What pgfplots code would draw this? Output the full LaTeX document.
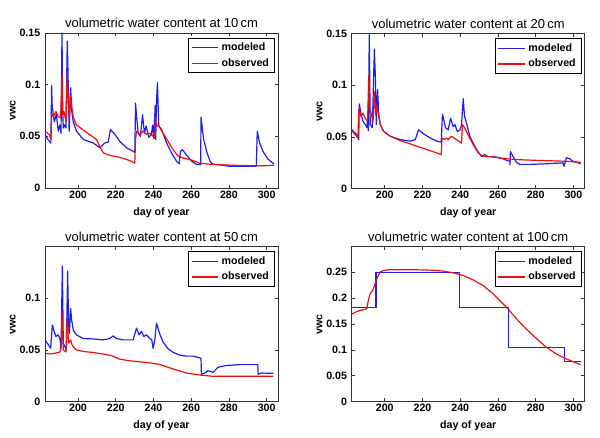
\documentclass[border=0pt]{standalone}
\usepackage{pgfplots}
\pgfplotsset{compat=1.18}
\usepackage{fontspec}
\setmainfont{Liberation Sans}
\definecolor{mblue}{RGB}{30,30,235}
\definecolor{mred}{RGB}{235,15,15}
\definecolor{axgray}{RGB}{50,50,50}
\pgfplotsset{
  vwcaxis/.style={
    scale only axis,
    width=174.75pt, height=116.25pt,
    anchor=south west,
    xmin=182.5, xmax=306,
    ymin=0,
    xtick={200,220,240,260,280,300},
    xticklabels={200,220,240,260,280,300},
    tick align=inside,
    major tick length=2.5pt,
    axis line style={draw=axgray, line width=0.5pt},
    every tick/.style={draw=axgray, line width=0.5pt},
    tick label style={font=\fontsize{8}{9}\selectfont\bfseries},
    xticklabel style={yshift=1.5pt},
    label style={font=\fontsize{8}{9}\selectfont\bfseries},
    xlabel={day of year},
    ylabel={vwc},
    ylabel style={yshift=-4pt},
    title style={font=\fontsize{9.75}{11}\selectfont, yshift=-5.5pt},
    legend style={at={(1,1)}, anchor=north east, xshift=-2.5pt, yshift=-3.5pt,
      draw=black, line width=0.5pt, font=\fontsize{8}{9}\selectfont\bfseries,
      inner xsep=2pt, inner ysep=1.5pt, row sep=0.5pt},
    legend cell align=left,
    legend image code/.code={\draw[#1, line width=1pt] (0pt,0pt) -- (20pt,0pt);},
  },
  modline/.style={draw=mblue, line width=0.9pt, mark=none, line join=round},
  obsline/.style={draw=mred, line width=0.9pt, mark=none, line join=round},
}
\begin{document}
\begin{tikzpicture}
\path[use as bounding box] (0,0) rectangle (450pt,328.5pt);
% ---------- 10 cm ----------
\begin{axis}[vwcaxis, at={(33.75pt,187.5pt)}, ymax=0.15,
  ytick={0,0.05,0.1,0.15}, yticklabels={0,0.05,0.1,0.15},
  title={volumetric water content at 10\,cm}]
\addplot[modline] coordinates {(182.5,0.052) (184,0.047) (185.6,0.0435) (186.0,0.099) (186.3,0.080) (186.8,0.072) (187.5,0.064) (188.5,0.072) (189.5,0.055) (190.4,0.061) (191.0,0.053) (191.5,0.15) (191.9,0.075) (192.2,0.058) (193,0.061) (193.6,0.058) (194.3,0.142) (194.6,0.12) (195.3,0.055) (196.1,0.097) (196.7,0.074) (197.5,0.064) (199.2,0.055) (202.8,0.047) (208.1,0.0435) (211.6,0.039) (214.2,0.0435) (216,0.0445) (217.2,0.0565) (219.5,0.052) (222.2,0.045) (225.7,0.039) (230.1,0.0345) (230.5,0.082) (231,0.07) (231.9,0.053) (233.1,0.050) (234.2,0.071) (235.2,0.053) (236.1,0.06) (237.5,0.049) (238.9,0.052) (239.6,0.061) (240.2,0.048) (240.9,0.080) (241.2,0.047) (241.6,0.084) (242.1,0.102) (242.8,0.060) (244.2,0.057) (246.9,0.044) (249.5,0.034) (252.2,0.026) (253.6,0.0235) (254.3,0.0355) (255.3,0.037) (257.5,0.032) (260.2,0.026) (262.7,0.023) (265,0.0225) (265.2,0.0685) (266.6,0.047) (268.4,0.034) (270.2,0.025) (271.6,0.023) (275.1,0.0225) (280,0.021) (294.5,0.021) (295,0.055) (296.2,0.044) (298,0.0355) (300.7,0.028) (303.3,0.024) (303.8,0.0235)};
\addlegendentry{modeled}
\addplot[obsline] coordinates {(182.5,0.055) (184.8,0.0515) (185.7,0.047) (186.0,0.0725) (186.9,0.069) (188.3,0.074) (189.5,0.069) (190.8,0.068) (191.5,0.11) (191.9,0.071) (192.6,0.074) (193.6,0.064) (194.3,0.113) (194.8,0.084) (195.4,0.068) (196.1,0.090) (196.8,0.077) (197.5,0.068) (199.2,0.061) (202.8,0.056) (206.3,0.0515) (209.8,0.047) (211.6,0.040) (213.4,0.034) (216.9,0.0315) (222.2,0.0296) (227.5,0.0265) (230.1,0.024) (230.5,0.047) (231,0.055) (232.8,0.0517) (234.5,0.055) (236.3,0.052) (238.1,0.053) (239.8,0.050) (240.7,0.048) (241.2,0.069) (241.6,0.06) (242.5,0.061) (245.1,0.053) (247.8,0.045) (250.4,0.037) (253.1,0.031) (255.7,0.029) (258.3,0.028) (261,0.0265) (264.5,0.024) (269.8,0.023) (275.1,0.0225) (282.1,0.022) (291,0.0216) (299.8,0.0216) (303.8,0.022)};
\addlegendentry{observed}
\end{axis}
% ---------- 20 cm ----------
\begin{axis}[vwcaxis, at={(263.8pt,187pt)}, ymax=0.15,
  ytick={0,0.05,0.1,0.15}, yticklabels={0,0.05,0.1,0.15},
  title={volumetric water content at 20\,cm}]
\addplot[modline] coordinates {(182.6,0.057) (185.3,0.052) (186.2,0.0475) (186.5,0.082) (187.4,0.073) (188.5,0.065) (189.7,0.062) (190.6,0.059) (190.9,0.068) (191.3,0.056) (191.8,0.149) (192.3,0.062) (193.4,0.059) (194.5,0.135) (195,0.11) (195.5,0.062) (196.2,0.096) (196.8,0.072) (197.6,0.062) (199.4,0.0555) (202.9,0.0507) (208.2,0.0475) (213.5,0.046) (216.2,0.0475) (217.9,0.057) (220.6,0.053) (224.1,0.049) (227.6,0.046) (229.9,0.045) (230.6,0.072) (231.5,0.065) (232.2,0.059) (233.6,0.057) (234.9,0.068) (236.3,0.060) (237.2,0.062) (238.4,0.0555) (239.8,0.0565) (240.7,0.062) (241.6,0.087) (242.3,0.070) (243.3,0.0636) (245.1,0.0507) (246.9,0.044) (248.6,0.038) (251.3,0.031) (253,0.033) (254.8,0.031) (257.5,0.031) (261,0.030) (264.5,0.0275) (266.3,0.0265) (266.4,0.023) (266.6,0.036) (268,0.031) (269.8,0.0255) (271.6,0.0235) (276.9,0.0235) (285,0.024) (294.5,0.025) (295,0.0216) (296.3,0.030) (298,0.029) (299.8,0.0265) (302.4,0.025) (303.8,0.024)};
\addlegendentry{modeled}
\addplot[obsline] coordinates {(182.6,0.056) (185.8,0.049) (186.2,0.0765) (187.4,0.070) (188.5,0.073) (189.7,0.068) (190.9,0.065) (191.5,0.109) (192,0.078) (192.9,0.0717) (193.8,0.065) (194.5,0.094) (195.2,0.0717) (195.9,0.081) (196.8,0.070) (197.6,0.062) (199.4,0.0555) (202.9,0.0507) (208.2,0.0465) (213.5,0.0433) (218.8,0.040) (224.1,0.0368) (229.9,0.033) (230.4,0.049) (231.5,0.0475) (232.9,0.049) (233.6,0.0475) (235.4,0.0507) (238,0.0475) (240.7,0.044) (241.2,0.062) (242.4,0.0588) (244.2,0.052) (246.9,0.0426) (249.5,0.0346) (252.2,0.031) (255.7,0.031) (261,0.0297) (266.3,0.0287) (271.6,0.028) (278.6,0.0275) (287.4,0.027) (296.3,0.0265) (303.8,0.0255)};
\addlegendentry{observed}
\end{axis}
% ---------- 50 cm ----------
\begin{axis}[vwcaxis, at={(33.75pt,27.2pt)}, ymax=0.1496,
  ytick={0,0.05,0.1}, yticklabels={0,0.05,0.1},
  title={volumetric water content at 50\,cm}]
\addplot[modline] coordinates {(182.5,0.0597) (184.3,0.055) (185.5,0.0516) (186.4,0.074) (187.3,0.068) (188.3,0.063) (189.5,0.0645) (190.4,0.061) (191,0.0516) (191.7,0.131) (192.2,0.0565) (193.1,0.053) (193.8,0.050) (194.5,0.126) (195,0.076) (195.4,0.066) (196.1,0.090) (196.6,0.079) (197.5,0.069) (199.2,0.0645) (202.8,0.061) (208.1,0.0606) (213.4,0.0597) (216.9,0.061) (218.6,0.0635) (220.4,0.061) (224,0.0597) (229.2,0.0597) (231,0.071) (232.4,0.0645) (233.6,0.068) (234.9,0.063) (236.3,0.0645) (238.1,0.061) (239.1,0.0597) (239.8,0.0516) (240.7,0.0597) (241.6,0.0758) (243.3,0.0655) (245.1,0.0574) (247.8,0.051) (250.4,0.0477) (253.9,0.045) (257.5,0.044) (261,0.044) (265.2,0.042) (265.4,0.0265) (267.2,0.0277) (268.9,0.030) (271.6,0.0284) (274.2,0.0332) (278.6,0.0350) (285.7,0.0358) (295.3,0.0358) (295.5,0.0265) (297,0.0277) (303.5,0.0274)};
\addlegendentry{modeled}
\addplot[obsline] coordinates {(182.5,0.0468) (185.1,0.046) (187.8,0.0468) (190.4,0.048) (191.1,0.053) (191.5,0.086) (192.2,0.050) (193.6,0.048) (194.3,0.082) (195,0.0565) (196.1,0.0597) (196.8,0.055) (197.5,0.053) (199.2,0.050) (202.8,0.0485) (208.1,0.0475) (213.4,0.046) (217.8,0.0445) (222.2,0.041) (227.5,0.0395) (232.8,0.0385) (238.1,0.0375) (243.3,0.036) (250.4,0.0316) (257.5,0.0277) (264.5,0.0258) (271.6,0.0245) (303.5,0.0245)};
\addlegendentry{observed}
\end{axis}
% ---------- 100 cm ----------
\begin{axis}[vwcaxis, at={(263.8pt,27.2pt)}, ymax=0.299,
  ytick={0,0.05,0.1,0.15,0.2,0.25}, yticklabels={0,0.05,0.1,0.15,0.2,0.25},
  title={volumetric water content at 100\,cm}]
\addplot[modline] coordinates {(182.5,0.182) (195.4,0.182) (195.4,0.25) (239.8,0.25) (239.8,0.182) (265.7,0.182) (265.7,0.105) (295.4,0.105) (295.4,0.077) (303.8,0.077)};
\addlegendentry{modeled}
\addplot[obsline] coordinates {(182.5,0.169) (185.2,0.174) (187.8,0.177) (190.4,0.179) (191.3,0.195) (192.2,0.208) (193.6,0.2145) (194.8,0.227) (196.1,0.240) (197.5,0.250) (199.3,0.253) (201.9,0.2545) (208.1,0.2545) (216.9,0.2545) (225.7,0.2537) (231,0.252) (236.3,0.2486) (241.6,0.2435) (246.9,0.235) (252.2,0.224) (257.5,0.208) (261.9,0.192) (265.4,0.179) (269.8,0.160) (275.1,0.140) (280.4,0.122) (285.7,0.105) (291,0.092) (296.3,0.0824) (300.7,0.076) (303.8,0.0715)};
\addlegendentry{observed}
\end{axis}
\end{tikzpicture}
\end{document}
